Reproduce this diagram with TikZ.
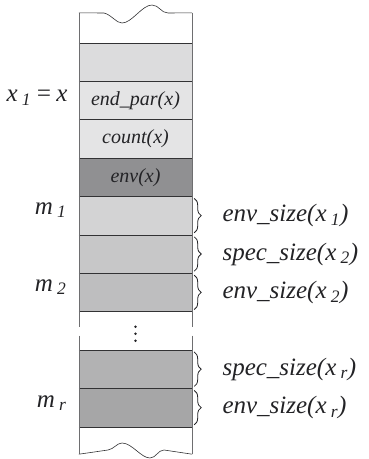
\documentclass[tikz,border=0pt]{standalone}
\usepackage{fontspec}
\setmainfont{Liberation Serif}
\definecolor{ink}{RGB}{35,35,38}
\definecolor{rule}{RGB}{50,50,52}
\definecolor{side}{RGB}{110,110,112}
\definecolor{capfill}{RGB}{220,220,221}
\definecolor{hdrfill}{RGB}{228,228,229}
\definecolor{envfill}{RGB}{144,144,146}
\definecolor{mafill}{RGB}{211,211,212}
\definecolor{mbfill}{RGB}{199,199,200}
\definecolor{mcfill}{RGB}{190,190,191}
\definecolor{mdfill}{RGB}{178,178,179}
\definecolor{mefill}{RGB}{166,166,167}
\usetikzlibrary{positioning,decorations.pathreplacing}
\newcommand{\subx}[1]{\,\textsubscript{#1}}

\begin{document}
\begin{tikzpicture}[x=1pt,y=-1pt,
    cell/.style={minimum width=113pt,minimum height=38pt,inner sep=0pt,
      font=\fontsize{20}{22}\selectfont\itshape,text=ink},
    lbl/.style={font=\fontsize{25}{27}\selectfont\itshape,text=ink},
    szbrace/.style={decorate,decoration={brace,amplitude=7pt},ink,line width=0.8pt}]
  \useasboundingbox (0,0) rectangle (368,459);
  % column cells
  \node[cell,minimum height=30pt] (r0) at (135.5,28) {};
  \node[cell,fill=capfill] (r1) at (135.5,62) {};
  \node[cell,fill=hdrfill,below=0pt of r1] (r2) {end\_par(x)};
  \node[cell,fill=hdrfill,below=0pt of r2] (r3) {count(x)};
  \node[cell,fill=envfill,below=0pt of r3] (r4) {env(x)};
  \node[cell,fill=mafill,below=0pt of r4] (r5) {};
  \node[cell,fill=mbfill,below=0pt of r5] (r6) {};
  \node[cell,fill=mcfill,below=0pt of r6] (r7) {};
  \node[cell,below=0pt of r7] (r8) {};
  \node[cell,fill=mdfill,below=0pt of r8] (r9) {};
  \node[cell,fill=mefill,below=0pt of r9] (r10) {};
  \node[cell,minimum height=27pt,below=0pt of r10] (r11) {};
  % dots
  \foreach \d in {-4,3,10}
    \fill[ink] ([yshift=-\d pt]r8.center) circle (1.4pt);
  % row rules
  \foreach \r in {r1,r2,r3,r4,r5,r6,r7,r8,r9,r10,r11}
    \draw[rule,semithick] (\r.north west) -- (\r.north east);
  % sides, broken at the dots
  \draw[side,semithick] (r0.north west) -- ([yshift=-15pt]r8.north west);
  \draw[side,semithick] (r0.north east) -- ([yshift=-15pt]r8.north east);
  \draw[side,semithick] ([yshift=-24pt]r8.north west) -- (r11.south west);
  \draw[side,semithick] ([yshift=-24pt]r8.north east) -- (r11.south east);
  % wavy ends
  \draw[rule,semithick] (r0.north west) -- (104,13)
    .. controls (112,15) and (116,23) .. (122,23)
    .. controls (132,23) and (142,5) .. (152,5)
    .. controls (159,5) and (161,13) .. (168,13) -- (r0.north east);
  \draw[rule,semithick] (r11.south west) -- (108,450)
    .. controls (114,449) and (117,443) .. (122,443)
    .. controls (132,443) and (141,458) .. (150,458)
    .. controls (156,458) and (158,450) .. (164,450) -- (r11.south east);
  % left labels
  \node[lbl,anchor=east] (x1) at (71,98) {x\subx{1}\,=\,x};
  \node[lbl,anchor=east] (m1) at (70,210) {m\subx{1}};
  \node[lbl,anchor=east] (m2) at (70,287) {m\subx{2}};
  \node[lbl,anchor=east] (mr) at (70,403) {m\subx{r}};
  % size braces
  \draw[szbrace] ([xshift=2pt,yshift=-2pt]r5.north east) -- ([xshift=2pt,yshift=2pt]r5.south east);
  \draw[szbrace] ([xshift=2pt,yshift=-2pt]r6.north east) -- ([xshift=2pt,yshift=2pt]r6.south east);
  \draw[szbrace] ([xshift=2pt,yshift=-2pt]r7.north east) -- ([xshift=2pt,yshift=2pt]r7.south east);
  \draw[szbrace] ([xshift=2pt,yshift=-2pt]r9.north east) -- ([xshift=2pt,yshift=2pt]r9.south east);
  \draw[szbrace] ([xshift=2pt,yshift=-2pt]r10.north east) -- ([xshift=2pt,yshift=2pt]r10.south east);
  \node[lbl,anchor=west] (s5) at (219,0 |- r5) {env\_size(x\subx{1})};
  \node[lbl,anchor=west] (s6) at (219,0 |- r6) {spec\_size(x\subx{2})};
  \node[lbl,anchor=west] (s7) at (219,0 |- r7) {env\_size(x\subx{2})};
  \node[lbl,anchor=west] (s9) at (219,0 |- r9) {spec\_size(x\subx{r})};
  \node[lbl,anchor=west] (s10) at (219,0 |- r10) {env\_size(x\subx{r})};
\end{tikzpicture}
\end{document}
